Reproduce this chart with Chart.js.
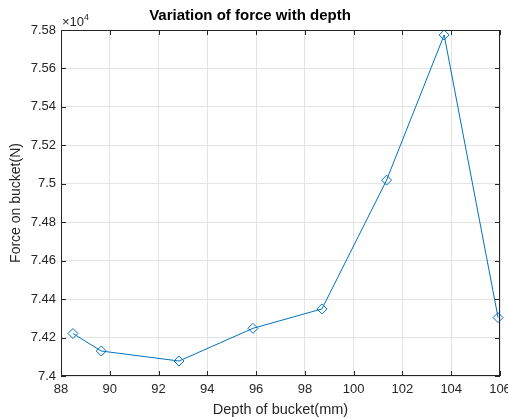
<!DOCTYPE html>
<html><head><meta charset="utf-8">
<script src="https://cdn.jsdelivr.net/npm/chart.js@4/dist/chart.umd.min.js"></script>
<style>html,body{margin:0;padding:0;background:#fff}#wrap{width:508px;height:419px}</style>
</head><body><div id="wrap"><canvas id="c" width="508" height="419"></canvas></div>
<script>
const depths = [88.49, 89.65, 92.84, 95.87, 98.70, 101.35, 103.71, 105.92];
const forces = [74221, 74130, 74078, 74248, 74349, 75019, 75774, 74304];
const xTickValues = [88, 90, 92, 94, 96, 98, 100, 102, 104, 106];
const yTickValues = [74000, 74200, 74400, 74600, 74800, 75000, 75200, 75400, 75600, 75800];
const titleText = 'Variation of force with depth';
const xLabel = 'Depth of bucket(mm)';
const yLabel = 'Force on bucket(N)';
const exponentLabel = '×10';
const exponentPower = '4';

const FONT = '"Liberation Sans", Arial, Helvetica, sans-serif';
const AX = '#262626';

const boxPlugin = {
  id: 'box',
  afterDraw(chart) {
    const ctx = chart.ctx, a = chart.chartArea;
    const xs = chart.scales.x, ys = chart.scales.y;
    ctx.save();
    ctx.strokeStyle = AX; ctx.lineWidth = 1;
    ctx.strokeRect(Math.round(a.left)+0.5, Math.round(a.top)+0.5, Math.round(a.right-a.left)-1, Math.round(a.bottom-a.top)-1);
    ctx.beginPath();
    const L = 5;
    xTickValues.forEach(v => {
      const px = Math.round(xs.getPixelForValue(v)) + 0.5;
      ctx.moveTo(px, a.bottom); ctx.lineTo(px, a.bottom - L);
      ctx.moveTo(px, a.top); ctx.lineTo(px, a.top + L);
    });
    yTickValues.forEach(v => {
      const py = Math.round(ys.getPixelForValue(v)) + 0.5;
      ctx.moveTo(a.left, py); ctx.lineTo(a.left + L, py);
      ctx.moveTo(a.right, py); ctx.lineTo(a.right - L, py);
    });
    ctx.stroke();
    ctx.fillStyle = AX;
    ctx.font = '13px ' + FONT;
    ctx.textBaseline = 'alphabetic'; ctx.textAlign = 'left';
    ctx.fillText(exponentLabel, a.left + 1, a.top - 4);
    const w = ctx.measureText(exponentLabel).width;
    ctx.font = '9px ' + FONT;
    ctx.fillText(exponentPower, a.left + 1 + w, a.top - 10.5);
    ctx.restore();
  }
};

new Chart(document.getElementById('c'), {
  type: 'line',
  data: {
    datasets: [{
      data: depths.map((d, i) => ({x: d, y: forces[i]})),
      borderColor: '#0072BD',
      borderWidth: 1,
      backgroundColor: 'rgba(0,0,0,0)',
      pointStyle: 'rectRot',
      pointRadius: 5,
      pointBorderWidth: 1,
      pointBorderColor: '#0072BD',
      pointBackgroundColor: 'rgba(0,0,0,0)',
      tension: 0,
      clip: false
    }]
  },
  options: {
    responsive: false,
    animation: false,
    devicePixelRatio: 1,
    layout: {padding: {left: 0, right: 8, top: 0, bottom: 0}},
    plugins: {
      legend: {display: false},
      tooltip: {enabled: false},
      title: {
        display: true, text: titleText, color: '#000',
        font: {family: FONT, size: 15, weight: 'bold'},
        padding: {top: 7, bottom: 5}
      }
    },
    scales: {
      x: {
        type: 'linear', min: 88, max: 106,
        afterBuildTicks(s) { s.ticks = xTickValues.map(v => ({value: v})); },
        afterFit(s) { s.height = 43; s.paddingLeft = 0; s.paddingRight = 0; },
        ticks: {color: AX, font: {family: FONT, size: 13}, padding: 6, maxRotation: 0, autoSkip: false,
          callback: v => String(v)},
        grid: {color: '#e3e3e3', drawTicks: false},
        border: {display: false},
        title: {display: true, text: xLabel, color: AX, font: {family: FONT, size: 14.5}, padding: {top: 0, bottom: 0}}
      },
      y: {
        type: 'linear', min: 74000, max: 75800,
        afterBuildTicks(s) { s.ticks = yTickValues.map(v => ({value: v})); },
        afterFit(s) { s.width = 61; s.paddingTop = 0; s.paddingBottom = 0; },
        ticks: {color: AX, font: {family: FONT, size: 13}, padding: 5, autoSkip: false,
          callback: v => String(parseFloat((v / 1e4).toFixed(2)))},
        grid: {color: '#e3e3e3', drawTicks: false},
        border: {display: false},
        title: {display: true, text: yLabel, color: AX, font: {family: FONT, size: 14}, padding: {top: 8, bottom: 0}}
      }
    }
  },
  plugins: [boxPlugin]
});
</script></body></html>
